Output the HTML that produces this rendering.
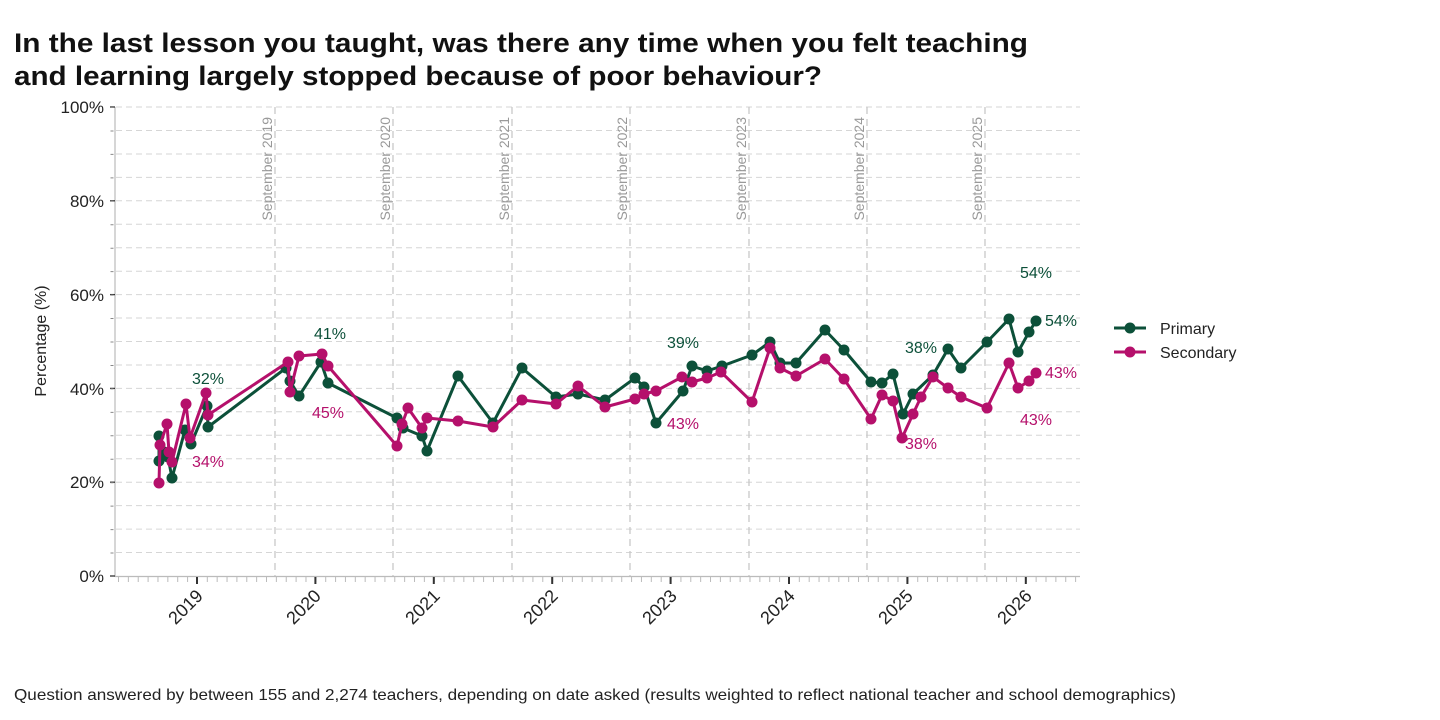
<!DOCTYPE html>
<html><head><meta charset="utf-8"><style>
html,body{margin:0;padding:0;background:#fff;}
svg{display:block;font-family:"Liberation Sans",sans-serif;}
</style></head><body>
<svg width="1440" height="720" viewBox="0 0 1440 720" xmlns="http://www.w3.org/2000/svg">
<text x="14" y="52" font-size="27" font-weight="bold" fill="#111" textLength="1014" lengthAdjust="spacingAndGlyphs">In the last lesson you taught, was there any time when you felt teaching</text>
<text x="14" y="85" font-size="27" font-weight="bold" fill="#111" textLength="808" lengthAdjust="spacingAndGlyphs">and learning largely stopped because of poor behaviour?</text>
<g stroke="#d6d6d6" stroke-width="1" stroke-dasharray="6 4">
<line x1="116" x2="1080" y1="107" y2="107"/><line x1="116" x2="1080" y1="130.5" y2="130.5"/>
<line x1="116" x2="1080" y1="154" y2="154"/><line x1="116" x2="1080" y1="177.4" y2="177.4"/>
<line x1="116" x2="1080" y1="200.8" y2="200.8"/><line x1="116" x2="1080" y1="224.3" y2="224.3"/>
<line x1="116" x2="1080" y1="247.7" y2="247.7"/><line x1="116" x2="1080" y1="271.2" y2="271.2"/>
<line x1="116" x2="1080" y1="294.6" y2="294.6"/><line x1="116" x2="1080" y1="318" y2="318"/>
<line x1="116" x2="1080" y1="341.5" y2="341.5"/><line x1="116" x2="1080" y1="365" y2="365"/>
<line x1="116" x2="1080" y1="388.4" y2="388.4"/><line x1="116" x2="1080" y1="411.8" y2="411.8"/>
<line x1="116" x2="1080" y1="435.3" y2="435.3"/><line x1="116" x2="1080" y1="458.7" y2="458.7"/>
<line x1="116" x2="1080" y1="482.2" y2="482.2"/><line x1="116" x2="1080" y1="505.6" y2="505.6"/>
<line x1="116" x2="1080" y1="529.1" y2="529.1"/><line x1="116" x2="1080" y1="552.5" y2="552.5"/>
</g>
<g stroke="#c8c8c8" stroke-width="1.3" stroke-dasharray="7 5">
<line x1="275" x2="275" y1="107" y2="576"/><line x1="393" x2="393" y1="107" y2="576"/>
<line x1="512" x2="512" y1="107" y2="576"/><line x1="630" x2="630" y1="107" y2="576"/>
<line x1="749" x2="749" y1="107" y2="576"/><line x1="867" x2="867" y1="107" y2="576"/>
<line x1="985" x2="985" y1="107" y2="576"/>
</g>
<g font-size="14" fill="#999" text-anchor="end">
<text transform="translate(272,117) rotate(-90)">September 2019</text>
<text transform="translate(390,117) rotate(-90)">September 2020</text>
<text transform="translate(509,117) rotate(-90)">September 2021</text>
<text transform="translate(627,117) rotate(-90)">September 2022</text>
<text transform="translate(746,117) rotate(-90)">September 2023</text>
<text transform="translate(864,117) rotate(-90)">September 2024</text>
<text transform="translate(982,117) rotate(-90)">September 2025</text>
</g>
<line x1="115" y1="107" x2="115" y2="577" stroke="#bbb" stroke-width="1.2"/>
<line x1="115" y1="576.5" x2="1080" y2="576.5" stroke="#bbb" stroke-width="1.2"/>
<line x1="110" y1="107" x2="115" y2="107" stroke="#333" stroke-width="1.3"/>
<line x1="110" y1="200.8" x2="115" y2="200.8" stroke="#333" stroke-width="1.3"/>
<line x1="110" y1="294.6" x2="115" y2="294.6" stroke="#333" stroke-width="1.3"/>
<line x1="110" y1="388.4" x2="115" y2="388.4" stroke="#333" stroke-width="1.3"/>
<line x1="110" y1="482.2" x2="115" y2="482.2" stroke="#333" stroke-width="1.3"/>
<line x1="110" y1="576" x2="115" y2="576" stroke="#333" stroke-width="1.3"/>
<line x1="112" y1="107" x2="112" y2="576" stroke="#888" stroke-width="3" stroke-dasharray="1 22.45" stroke-dashoffset="-23.45"/>
<line x1="118" y1="579.5" x2="1080" y2="579.5" stroke="#bbb" stroke-width="5" stroke-dasharray="1 8.867"/>
<g stroke="#333" stroke-width="2">
<line x1="197" x2="197" y1="577" y2="584"/><line x1="315.4" x2="315.4" y1="577" y2="584"/>
<line x1="433.8" x2="433.8" y1="577" y2="584"/><line x1="552.2" x2="552.2" y1="577" y2="584"/>
<line x1="670.6" x2="670.6" y1="577" y2="584"/><line x1="789" x2="789" y1="577" y2="584"/>
<line x1="907.4" x2="907.4" y1="577" y2="584"/><line x1="1025.8" x2="1025.8" y1="577" y2="584"/>
</g>
<g font-size="17" fill="#222" text-anchor="end">
<text x="104" y="113">100%</text><text x="104" y="207">80%</text><text x="104" y="301">60%</text>
<text x="104" y="395">40%</text><text x="104" y="488">20%</text><text x="104" y="582">0%</text>
</g>
<g font-size="18" fill="#222" text-anchor="end">
<text transform="translate(204,597) rotate(-45)">2019</text>
<text transform="translate(322,597) rotate(-45)">2020</text>
<text transform="translate(441,597) rotate(-45)">2021</text>
<text transform="translate(559,597) rotate(-45)">2022</text>
<text transform="translate(678,597) rotate(-45)">2023</text>
<text transform="translate(796,597) rotate(-45)">2024</text>
<text transform="translate(914,597) rotate(-45)">2025</text>
<text transform="translate(1033,597) rotate(-45)">2026</text>
</g>
<text transform="translate(46,341) rotate(-90)" font-size="16" fill="#222" text-anchor="middle">Percentage (%)</text>

<g fill="none" stroke="#0c5039" stroke-width="3" stroke-linejoin="round">
<polyline points="159,461 159,436 164,452 168,457 172,478 185,430 191,444 207,406 208,427 286,368 290,381 299,396 321,362 328,383 397,418 403,428 422,436 427,451 458,376 493,423 522,368 556,397 578,394 605,400 635,378 644,387 656,423 683,391 692,366 707,371 722,366 752,355 770,342 780,363 796,363 825,330 844,350 871,382 882,383 893,374 903,414 913,394 933,375 948,349 961,368 987,342 1009,319 1018,352 1029,332 1036,321"/>
</g>
<g fill="#0c5039">
<circle cx="159" cy="461" r="5.5"/><circle cx="159" cy="436" r="5.5"/><circle cx="164" cy="452" r="5.5"/><circle cx="168" cy="457" r="5.5"/><circle cx="172" cy="478" r="5.5"/><circle cx="185" cy="430" r="5.5"/><circle cx="191" cy="444" r="5.5"/><circle cx="207" cy="406" r="5.5"/><circle cx="208" cy="427" r="5.5"/><circle cx="286" cy="368" r="5.5"/><circle cx="290" cy="381" r="5.5"/><circle cx="299" cy="396" r="5.5"/><circle cx="321" cy="362" r="5.5"/><circle cx="328" cy="383" r="5.5"/><circle cx="397" cy="418" r="5.5"/><circle cx="403" cy="428" r="5.5"/><circle cx="422" cy="436" r="5.5"/><circle cx="427" cy="451" r="5.5"/><circle cx="458" cy="376" r="5.5"/><circle cx="493" cy="423" r="5.5"/><circle cx="522" cy="368" r="5.5"/><circle cx="556" cy="397" r="5.5"/><circle cx="578" cy="394" r="5.5"/><circle cx="605" cy="400" r="5.5"/><circle cx="635" cy="378" r="5.5"/><circle cx="644" cy="387" r="5.5"/><circle cx="656" cy="423" r="5.5"/><circle cx="683" cy="391" r="5.5"/><circle cx="692" cy="366" r="5.5"/><circle cx="707" cy="371" r="5.5"/><circle cx="722" cy="366" r="5.5"/><circle cx="752" cy="355" r="5.5"/><circle cx="770" cy="342" r="5.5"/><circle cx="780" cy="363" r="5.5"/><circle cx="796" cy="363" r="5.5"/><circle cx="825" cy="330" r="5.5"/><circle cx="844" cy="350" r="5.5"/><circle cx="871" cy="382" r="5.5"/><circle cx="882" cy="383" r="5.5"/><circle cx="893" cy="374" r="5.5"/><circle cx="903" cy="414" r="5.5"/><circle cx="913" cy="394" r="5.5"/><circle cx="933" cy="375" r="5.5"/><circle cx="948" cy="349" r="5.5"/><circle cx="961" cy="368" r="5.5"/><circle cx="987" cy="342" r="5.5"/><circle cx="1009" cy="319" r="5.5"/><circle cx="1018" cy="352" r="5.5"/><circle cx="1029" cy="332" r="5.5"/><circle cx="1036" cy="321" r="5.5"/>
</g>

<g fill="none" stroke="#b5106b" stroke-width="3" stroke-linejoin="round">
<polyline points="159,483 160,445 167,424 169,452 172,462 186,404 190,438 206,393 208,415 288,362 290,392 299,356 322,354 328,366 397,446 402,424 408,408 422,428 427,418 458,421 493,427 522,400 556,404 578,386 605,407 635,399 644,394 656,391 682,377 692,382 707,378 721,372 752,402 770,348 780,368 796,376 825,359 844,379 871,419 882,395 893,401 902,438 913,414 921,397 933,377 948,388 961,397 987,408 1009,363 1018,388 1029,381 1036,373"/>
</g>
<g fill="#b5106b">
<circle cx="159" cy="483" r="5.5"/><circle cx="160" cy="445" r="5.5"/><circle cx="167" cy="424" r="5.5"/><circle cx="169" cy="452" r="5.5"/><circle cx="172" cy="462" r="5.5"/><circle cx="186" cy="404" r="5.5"/><circle cx="190" cy="438" r="5.5"/><circle cx="206" cy="393" r="5.5"/><circle cx="208" cy="415" r="5.5"/><circle cx="288" cy="362" r="5.5"/><circle cx="290" cy="392" r="5.5"/><circle cx="299" cy="356" r="5.5"/><circle cx="322" cy="354" r="5.5"/><circle cx="328" cy="366" r="5.5"/><circle cx="397" cy="446" r="5.5"/><circle cx="402" cy="424" r="5.5"/><circle cx="408" cy="408" r="5.5"/><circle cx="422" cy="428" r="5.5"/><circle cx="427" cy="418" r="5.5"/><circle cx="458" cy="421" r="5.5"/><circle cx="493" cy="427" r="5.5"/><circle cx="522" cy="400" r="5.5"/><circle cx="556" cy="404" r="5.5"/><circle cx="578" cy="386" r="5.5"/><circle cx="605" cy="407" r="5.5"/><circle cx="635" cy="399" r="5.5"/><circle cx="644" cy="394" r="5.5"/><circle cx="656" cy="391" r="5.5"/><circle cx="682" cy="377" r="5.5"/><circle cx="692" cy="382" r="5.5"/><circle cx="707" cy="378" r="5.5"/><circle cx="721" cy="372" r="5.5"/><circle cx="752" cy="402" r="5.5"/><circle cx="770" cy="348" r="5.5"/><circle cx="780" cy="368" r="5.5"/><circle cx="796" cy="376" r="5.5"/><circle cx="825" cy="359" r="5.5"/><circle cx="844" cy="379" r="5.5"/><circle cx="871" cy="419" r="5.5"/><circle cx="882" cy="395" r="5.5"/><circle cx="893" cy="401" r="5.5"/><circle cx="902" cy="438" r="5.5"/><circle cx="913" cy="414" r="5.5"/><circle cx="921" cy="397" r="5.5"/><circle cx="933" cy="377" r="5.5"/><circle cx="948" cy="388" r="5.5"/><circle cx="961" cy="397" r="5.5"/><circle cx="987" cy="408" r="5.5"/><circle cx="1009" cy="363" r="5.5"/><circle cx="1018" cy="388" r="5.5"/><circle cx="1029" cy="381" r="5.5"/><circle cx="1036" cy="373" r="5.5"/>
</g>

<g font-size="16" fill="#0c5039">
<text x="192" y="384">32%</text><text x="314" y="339">41%</text><text x="667" y="348">39%</text>
<text x="905" y="353">38%</text><text x="1020" y="278">54%</text><text x="1045" y="326">54%</text>
</g>
<g font-size="16" fill="#b5106b">
<text x="192" y="467">34%</text><text x="312" y="418">45%</text><text x="667" y="429">43%</text>
<text x="905" y="449">38%</text><text x="1020" y="425">43%</text><text x="1045" y="378">43%</text>
</g>

<line x1="1114" y1="328" x2="1146" y2="328" stroke="#0c5039" stroke-width="3"/>
<circle cx="1130" cy="328" r="5.5" fill="#0c5039"/>
<text x="1160" y="334" font-size="16" fill="#222">Primary</text>
<line x1="1114" y1="352" x2="1146" y2="352" stroke="#b5106b" stroke-width="3"/>
<circle cx="1130" cy="352" r="5.5" fill="#b5106b"/>
<text x="1160" y="358" font-size="16" fill="#222">Secondary</text>

<text x="14" y="700" font-size="16" fill="#222" textLength="1162" lengthAdjust="spacingAndGlyphs">Question answered by between 155 and 2,274 teachers, depending on date asked (results weighted to reflect national teacher and school demographics)</text>
</svg>
</body></html>
